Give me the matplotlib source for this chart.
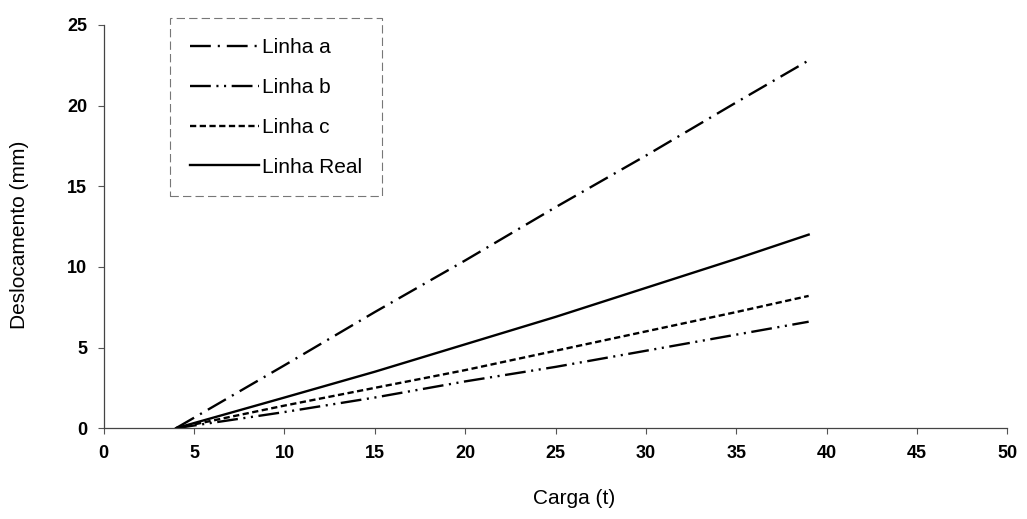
import matplotlib
matplotlib.use("Agg")
import matplotlib.pyplot as plt

plt.rcParams['font.family'] = ['Liberation Sans', 'DejaVu Sans']
plt.rcParams['lines.scale_dashes'] = False

carga = [4, 10, 15, 20, 25, 30, 35, 39]
linha_a = [0, 3.9, 7.2, 10.4, 13.7, 16.9, 20.2, 22.8]
linha_b = [0, 1.0, 1.9, 2.9, 3.8, 4.8, 5.8, 6.6]
linha_c = [0, 1.4, 2.5, 3.6, 4.8, 6.0, 7.2, 8.2]
linha_real = [0, 1.9, 3.5, 5.2, 6.9, 8.7, 10.5, 12.0]

labels = ['Linha a', 'Linha b', 'Linha c', 'Linha Real']
xticks = [0, 5, 10, 15, 20, 25, 30, 35, 40, 45, 50]
yticks = [0, 5, 10, 15, 20, 25]

fig = plt.figure(figsize=(10.27, 5.19), dpi=100)
ax = fig.add_axes([0.101, 0.175, 0.880, 0.777])

lw = 1.7
ax.plot(carga, linha_a, color='black', lw=lw, dashes=(15, 5, 1.5, 5), label=labels[0])
ax.plot(carga, linha_b, color='black', lw=lw, dashes=(15, 4, 1.5, 4, 1.5, 4), label=labels[1])
ax.plot(carga, linha_c, color='black', lw=lw, dashes=(4.5, 2.5), label=labels[2])
ax.plot(carga, linha_real, color='black', lw=lw, linestyle='-', label=labels[3])

ax.set_xlim(0, 50)
ax.set_ylim(0, 25)
ax.set_xticks(xticks)
ax.set_yticks(yticks)
ax.set_xticklabels([str(t) for t in xticks], fontsize=13, fontweight='bold')
ax.set_yticklabels([str(t) for t in yticks], fontsize=13, fontweight='bold')
ax.tick_params(axis='both', direction='out', length=4, width=0.8, color='#555555', pad=8)

for s in ['top', 'right']:
    ax.spines[s].set_visible(False)
for s in ['left', 'bottom']:
    ax.spines[s].set_color('#444444')
    ax.spines[s].set_linewidth(0.9)

ax.set_xlabel('Carga (t)', fontsize=15)
ax.xaxis.set_label_coords(0.52, -0.15)
ax.set_ylabel('Deslocamento (mm)', fontsize=15)
ax.yaxis.set_label_coords(-0.083, 0.48)

leg = ax.legend(loc='upper left', bbox_to_anchor=(0.062, 1.042), fontsize=15,
                handlelength=3.3, handletextpad=0.15, labelspacing=1.0,
                borderpad=0.95, fancybox=False, frameon=True)
fr = leg.get_frame()
fr.set_edgecolor('#555555')
fr.set_linestyle((0, (6, 3)))
fr.set_linewidth(0.8)

fig.savefig('out.png', dpi=100)
